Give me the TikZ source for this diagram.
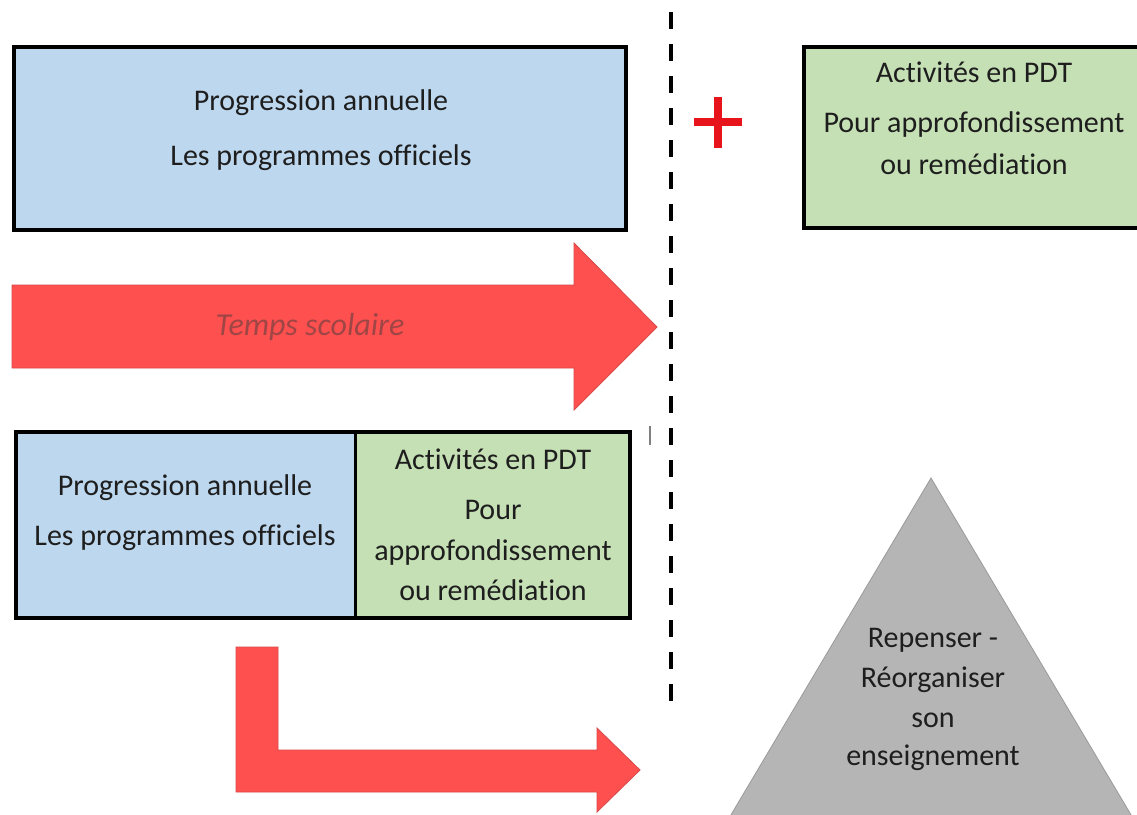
\documentclass[tikz,border=0pt]{standalone}
\usepackage{fontspec}
\setmainfont[RawFeature={-liga;-clig;-calt;-rlig;-dlig}]{Carlito}
\definecolor{boxblue}{HTML}{BDD7EE}
\definecolor{boxgreen}{HTML}{C5E0B4}
\definecolor{arrowred}{HTML}{FF5050}
\definecolor{arrowedge}{HTML}{D84848}
\definecolor{plusred}{HTML}{E8141C}
\definecolor{trigray}{HTML}{B5B5B5}
\definecolor{triedge}{HTML}{9A9A9A}
\definecolor{textdark}{HTML}{1E1E1E}
\definecolor{tempscol}{HTML}{A04545}
\tikzset{
  framebox/.style={draw=black, line width=4pt},
  bigarrow/.style={fill=arrowred, draw=arrowedge, line width=0.8pt, line join=miter},
  txt/.style={font=\fontsize{30}{36}\selectfont, text=textdark, inner sep=0pt,
              text height=21pt, text depth=7pt, anchor=center},
}
\begin{document}
\begin{tikzpicture}[x=1pt, y=-1pt]
\useasboundingbox (0,0) rectangle (1137,814);
\clip (0,0) rectangle (1137,814);
\fill[white] (0,0) rectangle (1137,814);

% top blue box
\draw[framebox, fill=boxblue] (14,47) rectangle (626,230);
\node[txt] (pa1) at (321,103) {Progression annuelle};
\node[txt] (po1) at (321,158) {Les programmes officiels};

% top right green box
\draw[framebox, fill=boxgreen] (804,47) rectangle (1150,228);
\node[txt] (ap1) at (974,75) {Activités en PDT};
\node[txt] (pr1) at (974,125) {Pour approfondissement};
\node[txt] (re1) at (974,167) {ou remédiation};

% plus sign
\draw[plusred, line width=8.5pt] (694,122) -- (742,122);
\draw[plusred, line width=8.5pt] (718,97) -- (718,148);

% dashed separator
\draw[black, line width=4.5pt, dash pattern=on 17pt off 15pt] (671,12) -- (671,705);

% Temps scolaire arrow
\draw[bigarrow] (12,285) -- (574,285) -- (574,243) -- (657,327) -- (574,410) -- (574,368) -- (12,368) -- cycle;
\node[font=\fontsize{32}{38}\selectfont\itshape, text=tempscol, inner sep=0pt] (ts) at (310,327) {Temps scolaire};

% lower combined box
\fill[boxblue] (16,432) rectangle (355,618);
\fill[boxgreen] (355,432) rectangle (630,618);
\draw[black, line width=3pt] (355,432) -- (355,618);
\draw[framebox] (16,432) rectangle (630,618);
\node[txt] (pa2) at (185,488) {Progression annuelle};
\node[txt] (po2) at (185,538) {Les programmes officiels};
\node[txt] (ap2) at (493,462) {Activités en PDT};
\node[txt] (pr2) at (493,512) {Pour};
\node[txt] (af2) at (493,553) {approfondissement};
\node[txt] (re2) at (493,593) {ou remédiation};

% small tick
\draw[gray, line width=1.2pt] (650,426) -- (650,445);

% L-shaped arrow
\draw[bigarrow] (236,647) -- (278,647) -- (278,750) -- (597,750) -- (597,728) -- (640,770) -- (597,812) -- (597,792) -- (236,792) -- cycle;

% triangle
\draw[fill=trigray, draw=triedge, line width=0.8pt] (931,478) -- (1143,835) -- (719,835) -- cycle;
\node[txt] (t1) at (933,640) {Repenser -};
\node[txt] (t2) at (933,680) {Réorganiser};
\node[txt] (t3) at (933,720) {son};
\node[txt] (t4) at (933,758) {enseignement};
\end{tikzpicture}
\end{document}
